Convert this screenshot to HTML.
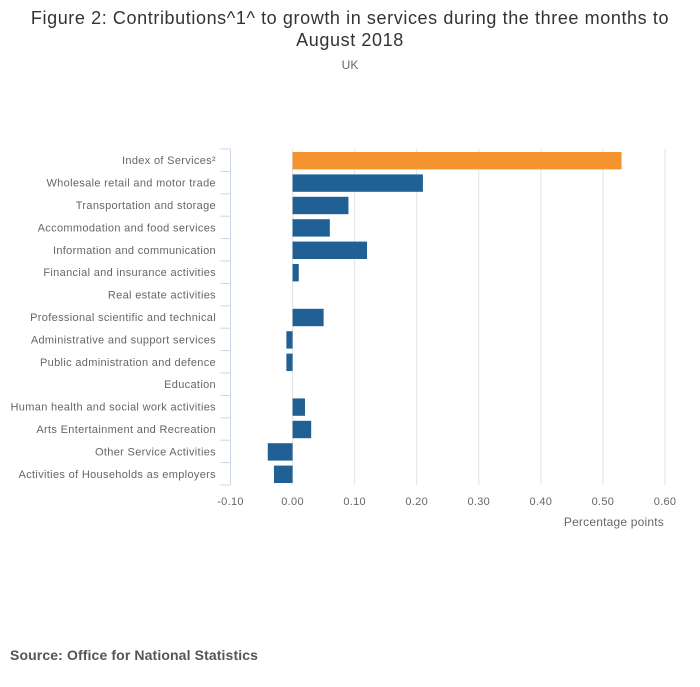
<!DOCTYPE html>
<html><head><meta charset="utf-8"><style>
body{margin:0;background:#fff;font-family:"Liberation Sans",sans-serif;}
</style></head><body>
<svg width="700" height="682" xmlns="http://www.w3.org/2000/svg">
<text x="350" y="24" text-anchor="middle" font-size="18" fill="#333" letter-spacing="0.6">Figure 2: Contributions^1^ to growth in services during the three months to</text>
<text x="350" y="46" text-anchor="middle" font-size="18" fill="#333" letter-spacing="0.6">August 2018</text>
<text x="350" y="69" text-anchor="middle" font-size="12" fill="#666">UK</text>
<g id="grid"></g><g id="bars"></g><g id="axes"></g>
<text x="664" y="526" text-anchor="end" font-size="12" fill="#666" letter-spacing="0.2">Percentage points</text>
<text x="10" y="660" font-size="14" font-weight="bold" fill="#555" letter-spacing="0.12">Source: Office for National Statistics</text>
</svg>
<script>
const categories=["Index of Services²","Wholesale retail and motor trade","Transportation and storage","Accommodation and food services","Information and communication","Financial and insurance activities","Real estate activities","Professional scientific and technical","Administrative and support services","Public administration and defence","Education","Human health and social work activities","Arts Entertainment and Recreation","Other Service Activities","Activities of Households as employers"];
const values=[0.53,0.21,0.09,0.06,0.12,0.01,0,0.05,-0.01,-0.01,0,0.02,0.03,-0.04,-0.03];
const ticks=[-0.1,0,0.1,0.2,0.3,0.4,0.5,0.6];
const tickLabels=["-0.10","0.00","0.10","0.20","0.30","0.40","0.50","0.60"];
const NS="http://www.w3.org/2000/svg";
const x0=230.5,x1=665,xmin=-0.1,xmax=0.6,yTop=149,yBot=485;
const X=v=>x0+(v-xmin)/(xmax-xmin)*(x1-x0);
const band=(yBot-yTop)/categories.length;
const Y=i=>yTop+i*band;
function mk(t,a,p){const e=document.createElementNS(NS,t);for(const k in a)e.setAttribute(k,a[k]);p.appendChild(e);return e;}
const g=document.getElementById('grid'),b=document.getElementById('bars'),ax=document.getElementById('axes');
ticks.forEach((t,i)=>{
 if(i>0){const l=mk('line',{x1:X(t),x2:X(t),y1:yTop,y2:yBot,stroke:'#e2e2e2','stroke-width':1},g);
 
 }
 const tx=mk('text',{x:X(t),y:505,'text-anchor':'middle','font-size':11,fill:'#666','letter-spacing':0.3},ax);
 tx.textContent=tickLabels[i];
 
 
});
const al=mk('line',{x1:x0,x2:x0,y1:yTop,y2:yBot,stroke:'#ccd6eb','stroke-width':1},ax);


for(let i=0;i<=categories.length;i++){mk('line',{x1:x0-10,x2:x0,y1:Y(i),y2:Y(i),stroke:'#ccd6eb','stroke-width':1},ax);}
categories.forEach((c,i)=>{
 const v=values[i];
 const r=mk('rect',{x:Math.min(X(0),X(v)),y:Y(i)+3,width:Math.abs(X(v)-X(0)),height:band-5,fill:i===0?'#f39431':'#206095'},b);
 
 
 const t=mk('text',{x:216,y:Y(i)+band/2+4,'text-anchor':'end','font-size':11,fill:'#666','letter-spacing':0.33},ax);
 t.textContent=c;
 
 
});
</script>
</body></html>
